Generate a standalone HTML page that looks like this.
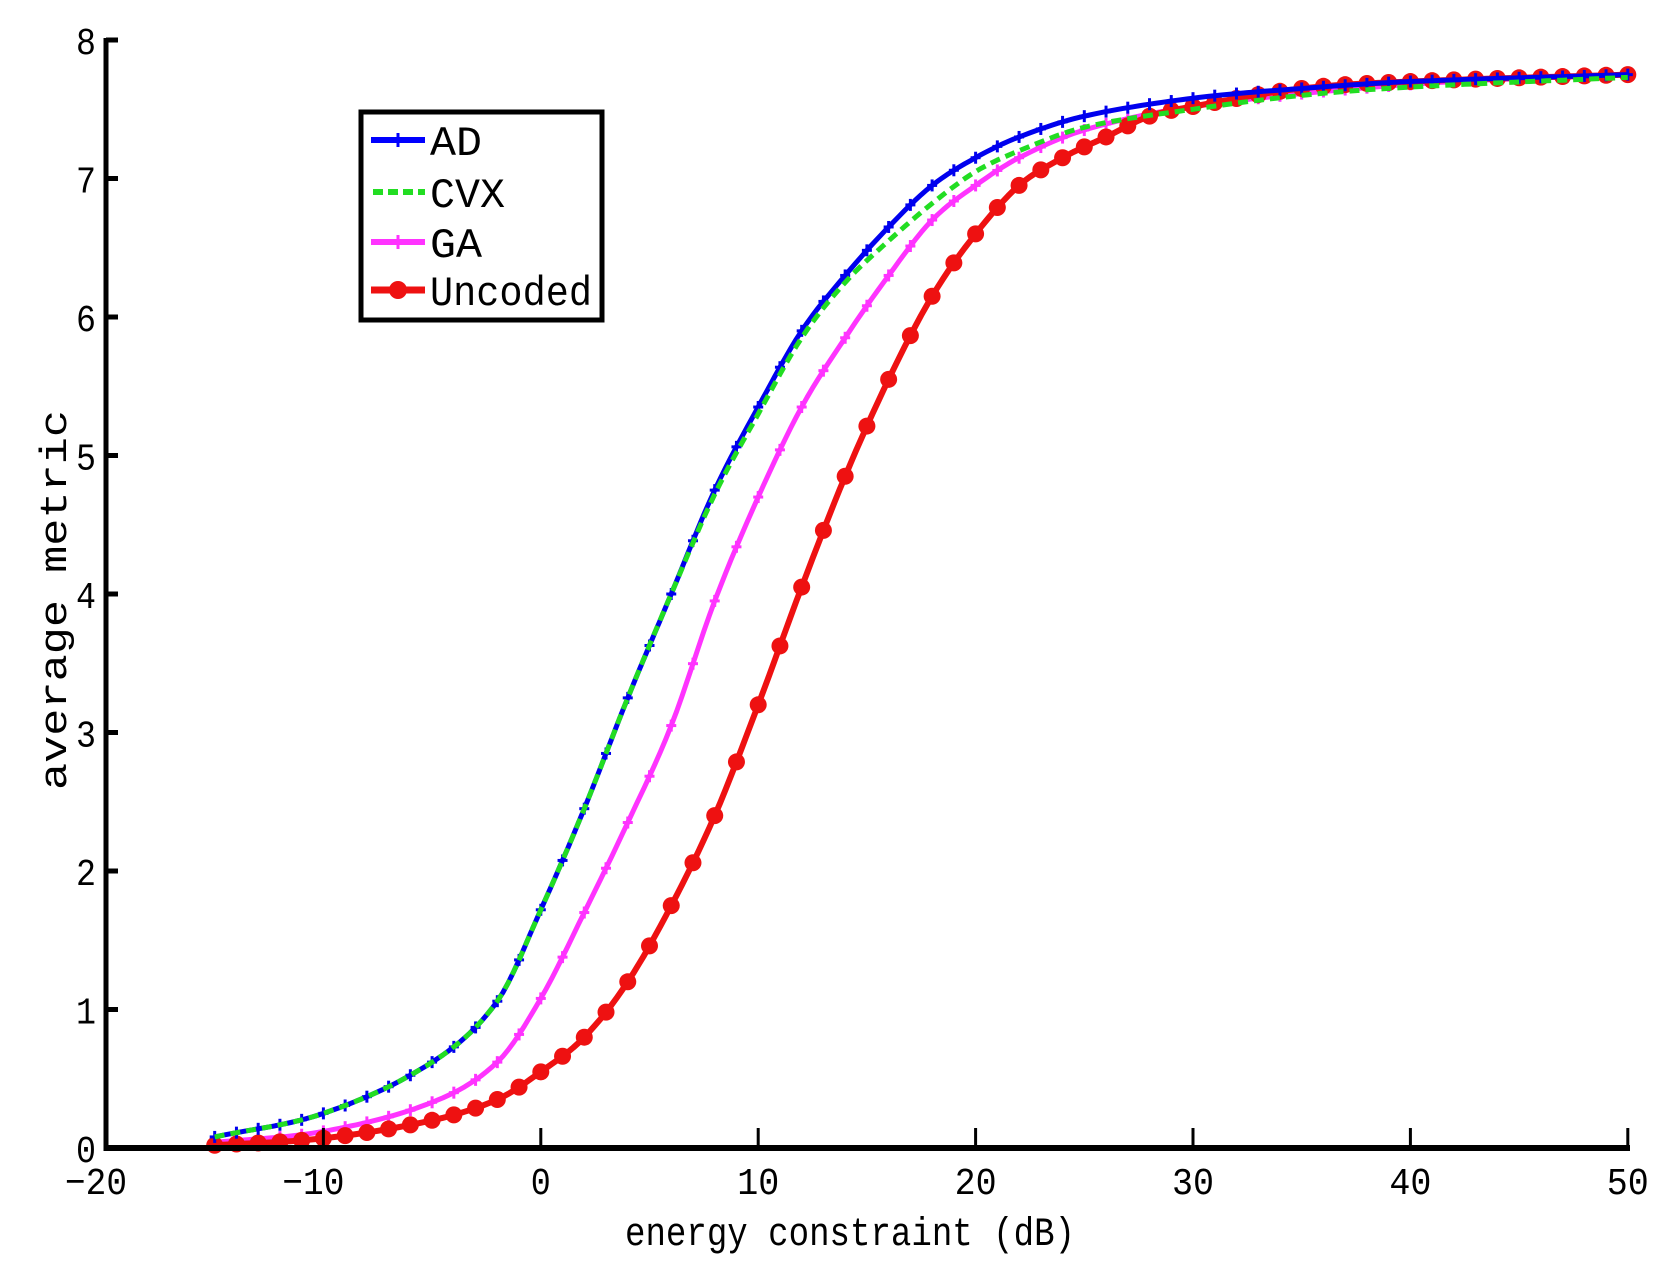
<!DOCTYPE html>
<html><head><meta charset="utf-8"><style>
html,body{margin:0;padding:0;background:#fff;}
svg{display:block;}
text{font-family:"Liberation Mono",monospace;fill:#000;}
</style></head><body>
<svg id="s" width="1668" height="1270" viewBox="0 0 1668 1270" xmlns="http://www.w3.org/2000/svg">
<rect width="1668" height="1270" fill="#fff"/>
<g id="plot"></g>
<line x1="106" y1="1148" x2="1630" y2="1148" stroke="#000" stroke-width="6"/>
<line x1="106" y1="38" x2="106" y2="1151" stroke="#000" stroke-width="5"/>
<g id="ticks"></g>
<text x="850" y="1245" font-size="40" text-anchor="middle" textLength="450" lengthAdjust="spacingAndGlyphs">energy constraint (dB)</text>
<text transform="translate(66,600) rotate(-90)" font-size="38" text-anchor="middle" textLength="380" lengthAdjust="spacingAndGlyphs">average metric</text>
<rect x="361" y="112" width="241" height="208" fill="#fff" stroke="#000" stroke-width="5"/>
<line x1="371" y1="140" x2="425" y2="140" stroke="#0000ff" stroke-width="6"/>
<line x1="398" y1="133" x2="398" y2="147" stroke="#0000ff" stroke-width="3"/>
<line x1="373" y1="192" x2="425" y2="192" stroke="#22dd22" stroke-width="6" stroke-dasharray="10,5"/>
<line x1="371" y1="242" x2="425" y2="242" stroke="#ff33ff" stroke-width="6"/>
<line x1="398" y1="235" x2="398" y2="249" stroke="#ff33ff" stroke-width="3"/>
<line x1="371" y1="290" x2="425" y2="290" stroke="#ee1111" stroke-width="7"/>
<circle cx="398" cy="290" r="9" fill="#ee1111"/>
<text x="430" y="155" font-size="42" textLength="52" lengthAdjust="spacingAndGlyphs">AD</text>
<text x="430" y="207" font-size="42" textLength="75" lengthAdjust="spacingAndGlyphs">CVX</text>
<text x="430" y="257" font-size="42" textLength="52" lengthAdjust="spacingAndGlyphs">GA</text>
<text x="430" y="305" font-size="42" textLength="162" lengthAdjust="spacingAndGlyphs">Uncoded</text>
</svg>
<script>
var NS="http://www.w3.org/2000/svg";
function X(v){return 106+(v+20)*21.74;}
function Y(v){return 1148-v*138.5;}
function el(p,t,a){var e=document.createElementNS(NS,t);for(var k in a)e.setAttribute(k,a[k]);p.appendChild(e);return e;}
var T=document.getElementById("ticks");
for(var i=0;i<=8;i++){var y=Y(i);el(T,"line",{x1:106,y1:y,x2:118,y2:y,stroke:"#000","stroke-width":5});
 var t=el(T,"text",{x:96,y:y+14,"font-size":38,"text-anchor":"end",textLength:20,lengthAdjust:"spacingAndGlyphs"});t.textContent=i;}
for(var v=-20;v<=50;v+=10){var x=X(v);el(T,"line",{x1:x,y1:1148,x2:x,y2:1128,stroke:"#000","stroke-width":3});
 var s=(v<0?"\u2212":"")+Math.abs(v);var w=v<0?62:(v==0?20:42);
 var t=el(T,"text",{x:x-(v<0?10:0),y:1194,"font-size":38,"text-anchor":"middle",textLength:w,lengthAdjust:"spacingAndGlyphs"});t.textContent=s;}
var D={
AD:[[-15,.08],[-10,.25],[-5,.62],[-2,1.06],[0,1.72],[2,2.45],[4,3.25],[6,4.0],[8,4.75],[10,5.35],[12,5.9],[14,6.3],[16,6.65],[18,6.95],[20,7.15],[22,7.3],[25,7.45],[30,7.58],[35,7.65],[40,7.7],[50,7.75]],
CVX:[[-15,.08],[-10,.25],[-5,.62],[-2,1.06],[0,1.72],[2,2.45],[4,3.25],[6,4.0],[8,4.72],[10,5.3],[12,5.85],[14,6.25],[16,6.55],[18,6.82],[20,7.05],[22,7.2],[25,7.37],[30,7.5],[35,7.6],[40,7.66],[50,7.73]],
GA:[[-15,.04],[-10,.12],[-5,.33],[-2,.62],[0,1.08],[2,1.7],[4,2.35],[6,3.05],[8,3.95],[10,4.7],[12,5.35],[14,5.85],[16,6.3],[18,6.7],[20,6.95],[22,7.15],[25,7.35],[30,7.52],[40,7.68],[50,7.75]],
UN:[[-15,.02],[-10,.07],[-5,.2],[-2,.35],[0,.55],[2,.8],[4,1.2],[6,1.75],[8,2.4],[10,3.2],[12,4.05],[14,4.85],[16,5.55],[18,6.15],[20,6.6],[22,6.95],[24,7.15],[26,7.3],[28,7.45],[30,7.52],[35,7.65],[40,7.7],[50,7.75]]};
function f(d,x){for(var i=0;i<d.length-1;i++){if(x>=d[i][0]&&x<=d[i+1][0]){
 var p0=d[Math.max(0,i-1)],p1=d[i],p2=d[i+1],p3=d[Math.min(d.length-1,i+2)];
 var t=(x-p1[0])/(p2[0]-p1[0]);
 var m1=(p2[1]-p0[1])/(p2[0]-p0[0])*(p2[0]-p1[0]),m2=(p3[1]-p1[1])/(p3[0]-p1[0])*(p2[0]-p1[0]);
 var t2=t*t,t3=t2*t;return (2*t3-3*t2+1)*p1[1]+(t3-2*t2+t)*m1+(-2*t3+3*t2)*p2[1]+(t3-t2)*m2;}}return d[d.length-1][1];}
var P=document.getElementById("plot");
function series(d,col,w,dash,mk,r){var pts=[];for(var x=-15;x<=50.001;x+=0.25)pts.push(X(x).toFixed(1)+","+Y(f(d,x)).toFixed(1));
 var a={points:pts.join(" "),fill:"none",stroke:col,"stroke-width":w,"stroke-linejoin":"round"};if(dash)a["stroke-dasharray"]=dash;el(P,"polyline",a);
 if(mk)for(var x=-15;x<=50;x++){var cx=X(x),cy=Y(f(d,x));
  if(mk=="c")el(P,"circle",{cx:cx,cy:cy,r:r,fill:col});
  else{el(P,"line",{x1:cx-5,y1:cy,x2:cx+5,y2:cy,stroke:col,"stroke-width":3});el(P,"line",{x1:cx,y1:cy-6,x2:cx,y2:cy+6,stroke:col,"stroke-width":3});}}}
series(D.GA,"#ff33ff",5,null,"+");
series(D.UN,"#ee1111",6,null,"c",8.5);
series(D.AD,"#0000ee",5,null,"+");
series(D.CVX,"#22dd22",5,"10,6",null);
</script>
</body></html>
